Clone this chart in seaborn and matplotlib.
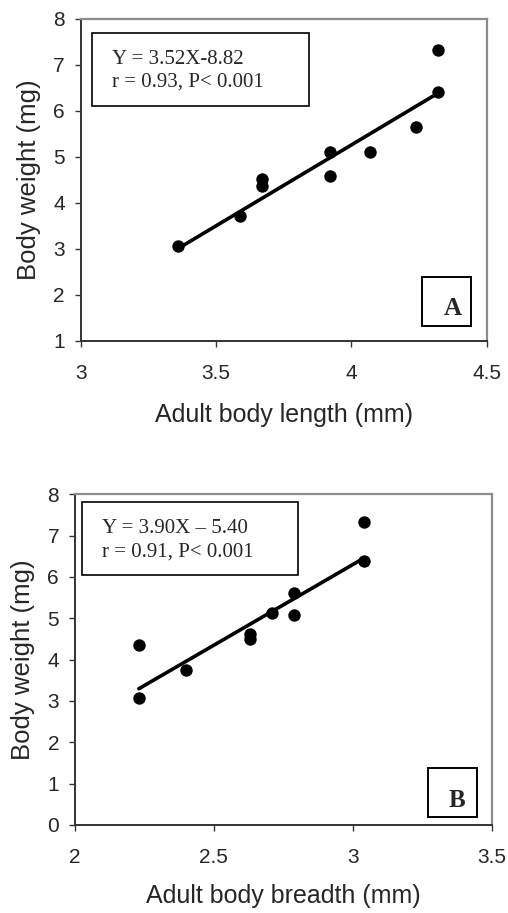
import matplotlib
matplotlib.use("Agg")
import matplotlib.pyplot as plt
import matplotlib.patches as mpatches
import numpy as np
import pandas as pd
import seaborn as sns

# body length (mm) vs body weight (mg)
length_mm = [3.36, 3.59, 3.67, 3.67, 3.92, 3.92, 4.07, 4.24, 4.32, 4.32]
weight_a = [3.07, 3.72, 4.52, 4.37, 5.11, 4.59, 5.11, 5.65, 7.33, 6.42]

# body breadth (mm) vs body weight (mg)
breadth_mm = [2.23, 2.23, 2.40, 2.63, 2.63, 2.71, 2.79, 2.79, 3.04, 3.04]
weight_b = [4.35, 3.06, 3.74, 4.61, 4.51, 5.13, 5.61, 5.09, 7.34, 6.39]

# regression equations as printed on the figure
slope_a, intercept_a = 3.52, -8.82
slope_b, intercept_b = 3.90, -5.40
eq_a = ["Y = 3.52X-8.82", "r = 0.93, P< 0.001"]
eq_b = ["Y = 3.90X \u2013 5.40", "r = 0.91, P< 0.001"]

xticks_a = [3, 3.5, 4, 4.5]
yticks_a = [1, 2, 3, 4, 5, 6, 7, 8]
xticks_b = [2, 2.5, 3, 3.5]
yticks_b = [0, 1, 2, 3, 4, 5, 6, 7, 8]

sns.set_style("ticks")
plt.rcParams['font.family'] = ['Liberation Sans', 'DejaVu Sans']
SERIF = ['Liberation Serif', 'DejaVu Serif']


def draw_panel(ax, x, y, slope, intercept, eq, letter, xticks, yticks, xlabel,
               box, text_x, text_y, lbox, lpos, xlabelpad):
    df = pd.DataFrame({'x': x, 'y': y})
    fit_x = np.array([min(x), max(x)])
    fit = pd.DataFrame({'x': fit_x, 'y': slope * fit_x + intercept})
    sns.lineplot(data=fit, x='x', y='y', ax=ax, color='black', lw=2.6, zorder=2)
    sns.scatterplot(data=df, x='x', y='y', ax=ax, color='black', s=80,
                    edgecolor='black', linewidth=0, zorder=3)

    ax.set_xlim(xticks[0], xticks[-1])
    ax.set_ylim(yticks[0], yticks[-1])
    ax.set_xticks(xticks)
    ax.set_yticks(yticks)
    ax.set_xticklabels([f"{t:g}" for t in xticks])
    ax.set_yticklabels([f"{t:g}" for t in yticks])
    ax.tick_params(axis='x', direction='out', length=4.5, width=1, color='#333333',
                   labelsize=15, pad=12)
    ax.tick_params(axis='y', direction='out', length=4.5, width=1, color='#333333',
                   labelsize=15, pad=7)
    ax.set_xlabel(xlabel, fontsize=18, labelpad=xlabelpad)
    ax.set_ylabel("Body weight (mg)", fontsize=18.5, labelpad=9)

    for s in ['left', 'bottom']:
        ax.spines[s].set_color('#333333')
        ax.spines[s].set_linewidth(1.4)
    for s in ['top', 'right']:
        ax.spines[s].set_visible(True)
        ax.spines[s].set_color('#8c8c8c')
        ax.spines[s].set_linewidth(1.6)

    # equation box
    ax.add_patch(mpatches.Rectangle((box[0], box[1]), box[2] - box[0], box[3] - box[1],
                                    transform=ax.transAxes, fill=False, ec='black',
                                    lw=1.2, zorder=4))
    for line, ty in zip(eq, text_y):
        ax.text(text_x, ty, line, transform=ax.transAxes, family=SERIF,
                fontsize=15, va='baseline', ha='left', zorder=5)

    # panel letter box
    ax.add_patch(mpatches.Rectangle((lbox[0], lbox[1]), lbox[2] - lbox[0], lbox[3] - lbox[1],
                                    transform=ax.transAxes, fill=False, ec='black',
                                    lw=1.4, zorder=4))
    ax.text(lpos[0], lpos[1], letter, transform=ax.transAxes, family=SERIF,
            fontsize=18, fontweight='bold', va='baseline', ha='center', zorder=5)


fig = plt.figure(figsize=(5.08, 9.13), dpi=100)
ax_a = fig.add_axes([0.1589, 0.6268, 0.7992, 0.3524])
ax_b = fig.add_axes([0.1476, 0.0964, 0.8203, 0.3622])

draw_panel(ax_a, length_mm, weight_a, slope_a, intercept_a, eq_a, "A",
           xticks_a, yticks_a, "Adult body length (mm)",
           box=(0.0286, 0.7305, 0.5616, 0.9556), text_x=0.0771, text_y=(0.860, 0.7886),
           lbox=(0.8414, 0.0457, 0.9613, 0.1971), lpos=(0.9165, 0.0799), xlabelpad=14.5)
draw_panel(ax_b, breadth_mm, weight_b, slope_b, intercept_b, eq_b, "B",
           xticks_b, yticks_b, "Adult body breadth (mm)",
           box=(0.0161, 0.756, 0.5359, 0.9758), text_x=0.0641, text_y=(0.883, 0.8113),
           lbox=(0.8479, 0.0251, 0.9654, 0.1715), lpos=(0.9167, 0.0553), xlabelpad=12)

fig.savefig("out.png", dpi=100)
